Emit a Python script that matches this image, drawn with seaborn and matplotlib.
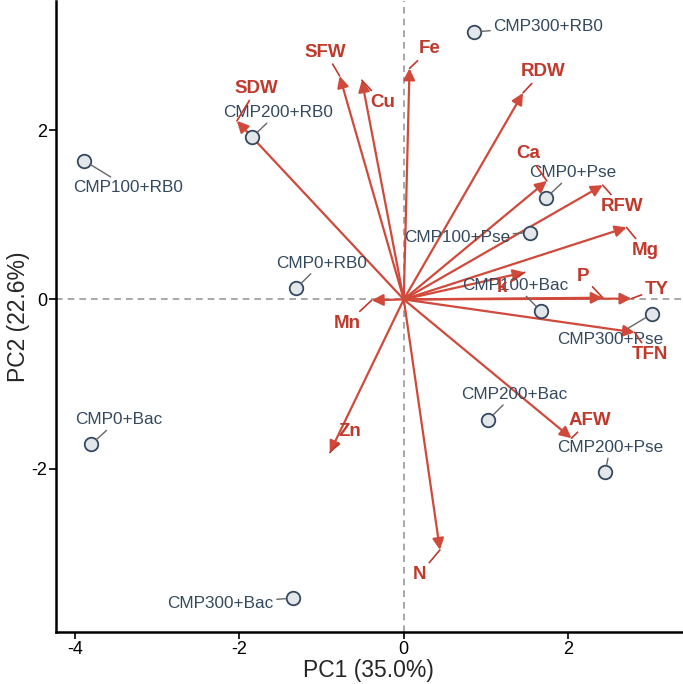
import numpy as np
import pandas as pd
import matplotlib
matplotlib.use("Agg")
import matplotlib.pyplot as plt
import seaborn as sns

# Scores of the samples on PC1 / PC2
muestras = ["CMP300+RB0", "CMP200+RB0", "CMP100+RB0", "CMP0+Pse", "CMP100+Pse", "CMP0+RB0",
            "CMP100+Bac", "CMP300+Pse", "CMP200+Bac", "CMP200+Pse", "CMP0+Bac", "CMP300+Bac"]
pc1 = [0.85, -1.84, -3.89, 1.73, 1.53, -1.31, 1.67, 3.02, 1.03, 2.45, -3.80, -1.35]
pc2 = [3.16, 1.92, 1.64, 1.20, 0.79, 0.13, -0.14, -0.17, -1.42, -2.04, -1.71, -3.53]
# where the (repelled) sample labels sit
lab_x = [1.76, -1.53, -3.35, 2.06, 0.645, -1.00, 1.36, 2.51, 1.34, 2.51, -3.47, -2.23]
lab_y = [3.23, 2.21, 1.32, 1.50, 0.73, 0.43, 0.165, -0.47, -1.12, -1.75, -1.42, -3.59]

# Loadings (arrow tips)
variables = ["SFW", "Cu", "Fe", "RDW", "Ca", "RFW", "Mg", "k", "P", "TY",
             "TFN", "AFW", "N", "Zn", "Mn", "SDW"]
load_x = [-0.78, -0.51, 0.07, 1.45, 1.74, 2.42, 2.71, 1.47, 2.42, 2.77,
          2.81, 2.04, 0.44, -0.90, -0.39, -2.03]
load_y = [2.64, 2.59, 2.73, 2.44, 1.40, 1.35, 0.85, 0.32, 0.02, 0.01,
          -0.39, -1.64, -2.96, -1.81, -0.01, 2.11]
var_lab_x = [-0.95, -0.26, 0.32, 1.69, 1.51, 2.65, 2.94, 1.20, 2.18, 3.08,
             2.99, 2.26, 0.19, -0.66, -0.69, -1.79]
var_lab_y = [2.92, 2.33, 2.96, 2.69, 1.72, 1.10, 0.58, 0.14, 0.27, 0.12,
             -0.65, -1.43, -3.25, -1.56, -0.28, 2.49]

df = pd.DataFrame({"PC1": pc1, "PC2": pc2, "muestra": muestras})

sns.set_style("ticks")
plt.rcParams["font.family"] = ["Liberation Sans", "DejaVu Sans"]
plt.rcParams["axes.unicode_minus"] = False

rojo = "#D0493B"
rojo_txt = "#C0392B"
azul = "#34495E"

fig = plt.figure(figsize=(6.83, 6.84), dpi=100)
ax = fig.add_axes([0.082, 0.076, 0.916, 0.923])

ax.axhline(0, color="#999999", ls=(0, (4, 3)), lw=1.2, zorder=0)
ax.axvline(0, color="#999999", ls=(0, (4, 3)), lw=1.2, zorder=0)

# arrows for the loadings
for vx, vy in zip(load_x, load_y):
    ax.annotate("", xy=(vx, vy), xytext=(0, 0),
                arrowprops=dict(arrowstyle="-|>", color=rojo, lw=1.6,
                                mutation_scale=17, shrinkA=0, shrinkB=0),
                zorder=2)

sns.scatterplot(data=df, x="PC1", y="PC2", ax=ax, s=95, color="#E4E7EA",
                edgecolor=azul, linewidth=1.3, zorder=3, legend=False)

for nombre, px, py, tx, ty in zip(muestras, pc1, pc2, lab_x, lab_y):
    ax.annotate(nombre, xy=(px, py), xytext=(tx, ty), ha="center", va="center",
                fontsize=12.3, color=azul, zorder=4,
                arrowprops=dict(arrowstyle="-", color="#666666", lw=1,
                                shrinkA=0, shrinkB=5))

for nombre, vx, vy, tx, ty in zip(variables, load_x, load_y, var_lab_x, var_lab_y):
    ax.annotate(nombre, xy=(vx, vy), xytext=(tx, ty), ha="center", va="center",
                fontsize=13.5, fontweight="bold", color=rojo_txt, zorder=5,
                arrowprops=dict(arrowstyle="-", color=rojo_txt, lw=1.2,
                                shrinkA=0, shrinkB=0))

ax.set_xlim(-4.23, 3.38)
ax.set_ylim(-3.93, 3.53)
ax.set_xticks([-4, -2, 0, 2])
ax.set_yticks([-2, 0, 2])
ax.set_xlabel("PC1 (35.0%)", fontsize=16.5, labelpad=1)
ax.set_ylabel("PC2 (22.6%)", fontsize=16.5, labelpad=0.5)
ax.tick_params(labelsize=13, width=1.2, length=5, pad=1.5, colors="black")
for lado in ["left", "bottom"]:
    ax.spines[lado].set_linewidth(1.8)
    ax.spines[lado].set_color("black")
sns.despine(ax=ax)

plt.savefig("out.png", dpi=100)
